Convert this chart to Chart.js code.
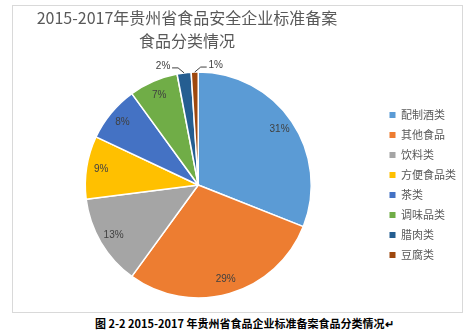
<!DOCTYPE html>
<html>
<head>
<meta charset="utf-8">
<script src="https://cdn.jsdelivr.net/npm/chart.js@4.4.0/dist/chart.umd.min.js"></script>
<style>
body{margin:0;background:#fff;width:475px;height:333px;overflow:hidden;position:relative;font-family:"Noto Sans CJK SC",sans-serif;}
#frame{position:absolute;left:12px;top:5px;width:451px;height:308px;box-sizing:border-box;border:1px solid #d9d9d9;}
#wrap{position:absolute;left:12px;top:5px;width:460px;height:308px;}
#caption{position:absolute;left:95px;top:315px;font-size:11px;line-height:16px;color:#000;font-weight:bold;white-space:nowrap;}
</style>
</head>
<body>
<div id="frame"></div>
<div id="wrap"><canvas id="myChart"></canvas></div>
<div id="caption">图 2-2 2015-2017 年贵州省食品企业标准备案食品分类情况↵</div>
<script>
// 食品分类 和 所占比例(%)
var categories = ['配制酒类', '其他食品', '饮料类', '方便食品类', '茶类', '调味品类', '腊肉类', '豆腐类'];
var shares = [31, 29, 13, 9, 8, 7, 2, 1];
var colors = ['#5B9BD5', '#ED7D31', '#A5A5A5', '#FFC000', '#4472C4', '#70AD47', '#255E91', '#9E480E'];
var titleLines = ['2015-2017年贵州省食品安全企业标准备案', '食品分类情况'];

// 两行标题
var titleText = {
	id: 'titleText',
	afterDraw: function(chart){
		var c = chart.ctx;
		c.save();
		c.font = '16px "Noto Sans CJK SC"';
		c.fillStyle = '#595959';
		c.textAlign = 'center';
		c.textBaseline = 'middle';
		c.fillText(titleLines[0], 175, 13);
		c.fillText(titleLines[1], 175, 36);
		c.restore();
	}
};

// 百分比标签, 小扇区放在外面加引导线
var pctLabels = {
	id: 'pctLabels',
	afterDatasetsDraw: function(chart){
		var c = chart.ctx;
		var arcs = chart.getDatasetMeta(0).data;
		c.save();
		c.font = '10px "Liberation Sans", sans-serif';
		c.fillStyle = '#404040';
		c.strokeStyle = '#404040';
		c.lineWidth = 1;
		c.textAlign = 'center';
		c.textBaseline = 'middle';
		arcs.forEach(function(arc, i){
			var p = arc.getProps(['x', 'y', 'startAngle', 'endAngle', 'outerRadius'], true);
			var mid = (p.startAngle + p.endAngle) / 2;
			var txt = shares[i] + '%';
			if(shares[i] >= 5){
				var r = p.outerRadius * 0.87;
				c.fillText(txt, p.x + Math.cos(mid) * r, p.y + Math.sin(mid) * r);
			}else{
				var ex = p.x + Math.cos(mid) * p.outerRadius;
				var ey = p.y + Math.sin(mid) * p.outerRadius;
				var side = (i == arcs.length - 1) ? 1 : -1;
				c.beginPath();
				c.moveTo(ex, ey);
				c.lineTo(ex + side * 6, ey - 5);
				c.lineTo(ex + side * 12, ey - 5);
				c.stroke();
				c.fillText(txt, ex + side * 21, ey - 7);
			}
		});
		c.restore();
	}
};

var ctx = document.getElementById('myChart');
new Chart(ctx, {
	type: 'pie',
	data: {
		labels: categories,
		datasets: [{
			data: shares,
			backgroundColor: colors,
			borderColor: '#ffffff',
			borderWidth: 1.5
		}]
	},
	options: {
		responsive: true,
		maintainAspectRatio: false,
		animation: false,
		radius: 113,
		layout: {padding: {left: 4, right: 6, top: 52, bottom: 0}},
		plugins: {
			title: {display: false},
			tooltip: {enabled: false},
			legend: {
				position: 'right',
				labels: {
					boxWidth: 6,
					boxHeight: 6,
					padding: 9,
					color: '#595959',
					font: {size: 11, family: '"Noto Sans CJK SC"'},
					generateLabels: function(chart){
						var items = Chart.overrides.pie.plugins.legend.labels.generateLabels(chart);
						items.forEach(function(it){ it.lineWidth = 0; });
						return items;
					}
				}
			}
		}
	},
	plugins: [titleText, pctLabels]
});
</script>
</body>
</html>
